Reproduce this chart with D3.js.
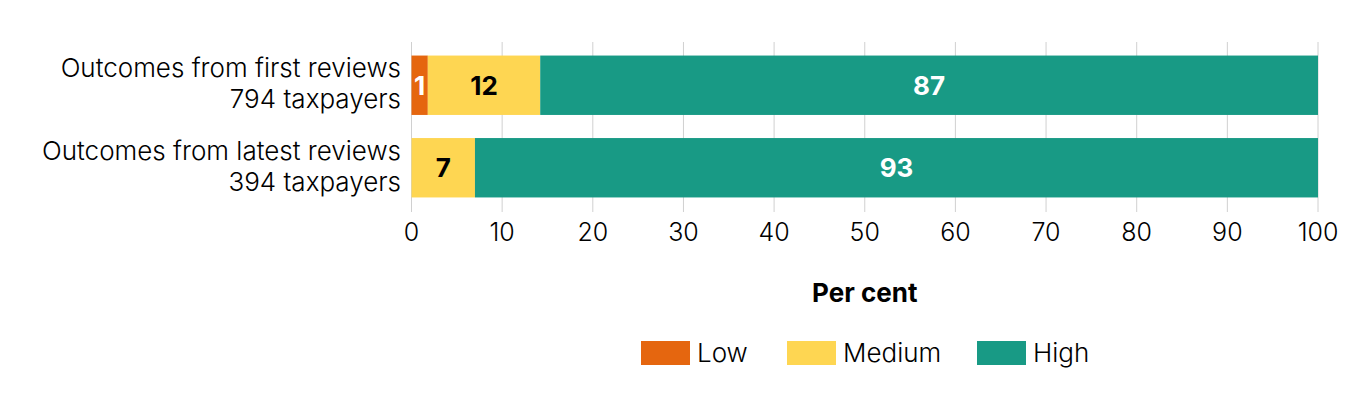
<!DOCTYPE html>
<html><head><meta charset="utf-8">
<script src="https://cdn.jsdelivr.net/npm/d3@7"></script>
<style>
body{margin:0;background:#fff;}
text{font-family:Inter, "Noto Sans", sans-serif;}
</style></head>
<body><svg id="c" width="1360" height="406"></svg>
<script>
const categories = ["first", "latest"];
const categoryLines = [["Outcomes from first reviews","794 taxpayers"],["Outcomes from latest reviews","394 taxpayers"]];
const seriesNames = ["Low","Medium","High"];
const lowValues = [1.8, 0];
const mediumValues = [12.4, 7];
const highValues = [85.8, 93];
const lowLabels = ["1", ""];
const mediumLabels = ["12", "7"];
const highLabels = ["87", "93"];
const xTicks = [0,10,20,30,40,50,60,70,80,90,100];
const colors = ["#E5660F","#FED652","#189A85"];
const labelColors = ["#ffffff","#000000","#ffffff"];

const svg = d3.select("#c");
const x = d3.scaleLinear().domain([0,100]).range([411.5,1318]);
const y = d3.scaleBand().domain(categories).range([44,209]).paddingInner(0.28).paddingOuter(0.14);

svg.append("g").selectAll("line").data(xTicks).join("line")
  .attr("x1",d=>x(d)).attr("x2",d=>x(d)).attr("y1",42).attr("y2",212)
  .attr("stroke","#d0d0d0").attr("stroke-width",1);

const series = [lowValues, mediumValues, highValues];
const labels = [lowLabels, mediumLabels, highLabels];
const rows = categories.map((c,i)=>{
  let acc=0; return series.map((s,k)=>{const v=s[i]; const r={cat:c,k,x0:acc,x1:acc+v,label:labels[k][i]}; acc+=v; return r;});
});
const segs = rows.flat().filter(d=>d.x1>d.x0);
svg.append("g").selectAll("rect").data(segs).join("rect")
  .attr("x",d=>x(d.x0)).attr("width",d=>x(d.x1)-x(d.x0))
  .attr("y",d=>y(d.cat)).attr("height",y.bandwidth())
  .attr("fill",d=>colors[d.k]);
svg.append("g").selectAll("text").data(segs.filter(d=>d.label)).join("text")
  .attr("x",d=>(x(d.x0)+x(d.x1))/2).attr("y",d=>y(d.cat)+y.bandwidth()/2)
  .attr("dy","0.36em").attr("text-anchor","middle")
  .attr("font-size",26).attr("font-weight",700)
  .attr("fill",d=>labelColors[d.k]).text(d=>d.label);

const cl = svg.append("g").selectAll("text").data(categories).join("text")
  .attr("text-anchor","end").attr("font-size",26).attr("font-weight",300).attr("fill","#000");
cl.each(function(d,i){
  const t=d3.select(this); const cy=y(d)+y.bandwidth()/2 - 2;
  categoryLines[i].forEach((ln,j)=>{
    t.append("tspan").attr("x",401).attr("y",cy+(j-0.5)*31).attr("dy","0.36em").text(ln);
  });
});

svg.append("g").selectAll("text").data(xTicks).join("text")
  .attr("x",d=>x(d)).attr("y",232).attr("dy","0.36em").attr("text-anchor","middle")
  .attr("font-size",25).attr("font-weight",300).attr("fill","#000").text(d=>d);

svg.append("text").attr("x",(x(0)+x(100))/2).attr("y",293).attr("dy","0.36em")
  .attr("text-anchor","middle").attr("font-size",26).attr("font-weight",700).attr("fill","#000").text("Per cent");

const legX = [641, 787, 977];
const lg = svg.append("g").selectAll("g").data(seriesNames).join("g")
  .attr("transform",(d,i)=>`translate(${legX[i]},341)`);
lg.append("rect").attr("width",49).attr("height",24).attr("fill",(d,i)=>colors[i]);
lg.append("text").attr("x",56).attr("y",12).attr("dy","0.36em").attr("font-size",26).attr("font-weight",300).attr("fill","#000").text(d=>d);
</script></body></html>
